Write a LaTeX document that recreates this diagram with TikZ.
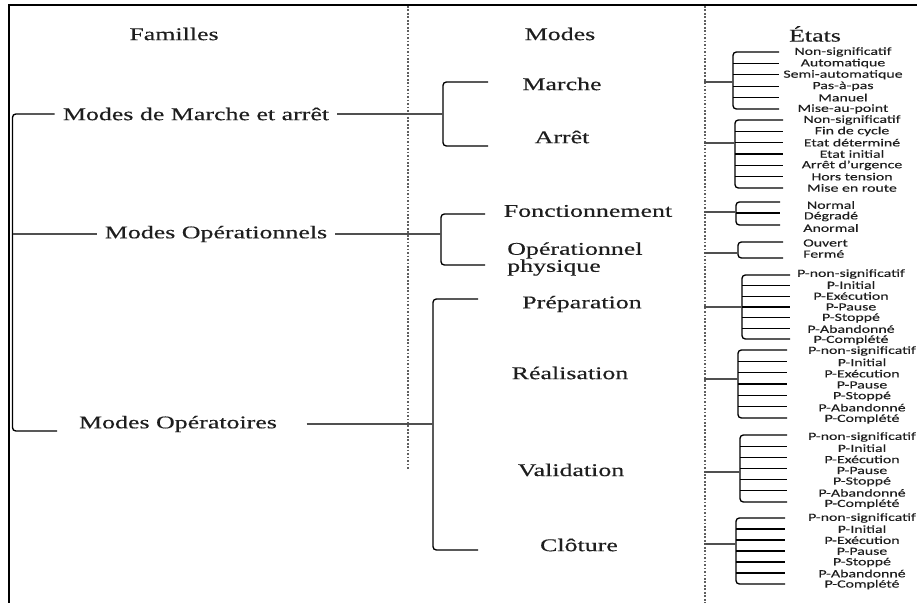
\documentclass[tikz,border=0pt]{standalone}
\usepackage{fontspec}
\setmainfont{Liberation Serif}[FakeStretch=1.45,FakeBold=0.4]
\newfontfamily\statefont{Carlito}[FakeStretch=1.45,FakeBold=0.3]
\definecolor{inkgray}{RGB}{30,30,30}
\definecolor{linkgray}{RGB}{80,80,80}
\definecolor{dotgray}{RGB}{95,95,95}
\tikzset{
    head/.style={font=\fontsize{13.4}{12.8}\selectfont, text=inkgray, inner sep=0pt},
    famtext/.style={font=\fontsize{13.4}{12.8}\selectfont, text=inkgray, inner xsep=6pt, inner ysep=0pt},
    modetext/.style={font=\fontsize{13.4}{12.8}\selectfont, text=inkgray, inner sep=0pt, align=left},
    state/.style={font=\statefont\fontsize{8.2}{8}\selectfont, text=inkgray, inner sep=0pt},
    brace/.style={draw=black, line width=1pt, rounded corners=2.5pt},
    tick/.style={draw=black, line width=0.9pt},
    link/.style={draw=linkgray, line width=0.9pt},
    frame/.style={draw=black, line width=1.5pt},
    divider/.style={draw=dotgray, line width=1.1pt, dash pattern=on 1.3pt off 1.3pt}
}

\begin{document}
\begin{tikzpicture}[x=0.75pt,y=-0.75pt]
\useasboundingbox (0,0) rectangle (917,603);
\draw[frame] (9.3,603) -- (9.3,5.3) -- (917,5.3);
\draw[divider] (408,6) -- (408,470);
\draw[divider] (705,6) -- (705,603);
% column titles
\node[head] (tfam) at (174,34) {Familles};
\node[head] (tmod) at (560,34) {Modes};
\node[head] (teta) at (815,34) {États};
% familles
\node[famtext] (fmarche) at (196,114) {Modes de Marche et arrêt};
\node[famtext] (foper) at (216,234) {Modes Opérationnels};
\node[famtext] (fopt) at (178,424) {Modes Opératoires};
\draw[brace] (fmarche.west) -| (12.5,431) -- (57,431);
\draw[link] (12.5,234) -- (foper.west);
% modes
\node[modetext] (marche) at (562,84) {Marche};
\node[modetext] (arret) at (562,137) {Arrêt};
\node[modetext] (fonct) at (588,211) {Fonctionnement};
\node[modetext, anchor=west] (ophys) at (507,259) {Opérationnel\\physique};
\node[modetext] (prep) at (582,304) {Préparation};
\node[modetext] (real) at (570,373) {Réalisation};
\node[modetext] (valid) at (571,470) {Validation};
\node[modetext] (clot) at (579,545) {Clôture};
\coordinate (bmarche) at (443,114);
\coordinate (boper) at (441,234);
\coordinate (bopt) at (433,424);
\draw[brace] (488,82) -- (443,82) -- (443,146) -- (488,146);
\draw[link] (fmarche.east) -- (bmarche);
\draw[brace] (485,214) -- (441,214) -- (441,265) -- (485,265);
\draw[link] (foper.east) -- (boper);
\draw[brace] (478,299) -- (433,299) -- (433,550) -- (478,550);
\draw[link] ([xshift=16pt]fopt.east) -- (bopt);
% etats : Marche
\foreach \lbl [count=\i from 0] in {Non-significatif,Automatique,Semi-automatique,Pas-à-pas,Manuel,Mise-au-point}
    \node[state] (sma\i) at (843,{52+11.4*\i}) {\lbl};
\foreach \i in {1,...,4}
    \draw[tick] (733,{52+11.4*\i}) -- (779,{52+11.4*\i});
\draw[brace] (779,52) -- (733,52) -- (733,109) -- (779,109);
\draw[link] (704,82) -- (733,82);
% etats : Arret
\foreach \lbl [count=\i from 0] in {Non-significatif,Fin de cycle,Etat déterminé,Etat initial,Arrêt d’urgence,Hors tension,Mise en route}
    \node[state] (sar\i) at (852,{120+11.33*\i}) {\lbl};
\foreach \i in {1,...,5}
    \draw[tick] (735,{120+11.33*\i}) -- (783,{120+11.33*\i});
\draw[brace] (783,120) -- (735,120) -- (735,188) -- (783,188);
\draw[link] (704,143) -- (735,143);
% etats : Fonctionnement
\foreach \lbl [count=\i from 0] in {Normal,Dégradé,Anormal}
    \node[state] (sfo\i) at (831,{205+11.5*\i}) {\lbl};
\draw[tick] (736,213) -- (780,213);
\draw[brace] (780,202) -- (736,202) -- (736,225) -- (780,225);
\draw[link] (704,212) -- (736,212);
% etats : Operationnel physique
\node[state, anchor=west] (sph0) at (803,243) {Ouvert};
\node[state, anchor=west] (sph1) at (803,254) {Fermé};
\draw[brace] (783,242) -- (738,242) -- (738,258) -- (783,258);
\draw[link] (704,253) -- (738,253);
% etats : Preparation
\foreach \lbl [count=\i from 0] in {P-non-significatif,P-Initial,P-Exécution,P-Pause,P-Stoppé,P-Abandonné,P-Complété}
    \node[state] (spr\i) at (851,{274+11*\i}) {\lbl};
\foreach \i in {1,...,5}
    \draw[tick] (742,{275+10.67*\i}) -- (790,{275+10.67*\i});
\draw[brace] (790,275) -- (742,275) -- (742,339) -- (790,339);
\draw[link] (704,307) -- (742,307);
% etats : Realisation
\foreach \lbl [count=\i from 0] in {P-non-significatif,P-Initial,P-Exécution,P-Pause,P-Stoppé,P-Abandonné,P-Complété}
    \node[state] (sre\i) at (862,{351+11.33*\i}) {\lbl};
\foreach \i in {1,...,5}
    \draw[tick] (738,{350+11.33*\i}) -- (787,{350+11.33*\i});
\draw[brace] (787,350) -- (738,350) -- (738,418) -- (787,418);
\draw[link] (704,379) -- (738,379);
% etats : Validation
\foreach \lbl [count=\i from 0] in {P-non-significatif,P-Initial,P-Exécution,P-Pause,P-Stoppé,P-Abandonné,P-Complété}
    \node[state] (sva\i) at (862,{437+11.17*\i}) {\lbl};
\foreach \i in {1,...,5}
    \draw[tick] (740,{435+11.17*\i}) -- (787,{435+11.17*\i});
\draw[brace] (787,435) -- (740,435) -- (740,502) -- (787,502);
\draw[link] (704,472) -- (740,472);
% etats : Cloture
\foreach \lbl [count=\i from 0] in {P-non-significatif,P-Initial,P-Exécution,P-Pause,P-Stoppé,P-Abandonné,P-Complété}
    \node[state] (scl\i) at (862,{518+11.1*\i}) {\lbl};
\foreach \i in {1,...,5}
    \draw[tick] (736,{518+11*\i}) -- (785,{518+11*\i});
\draw[brace] (785,518) -- (736,518) -- (736,584) -- (785,584);
\draw[link] (704,544) -- (736,544);
\end{tikzpicture}
\end{document}
